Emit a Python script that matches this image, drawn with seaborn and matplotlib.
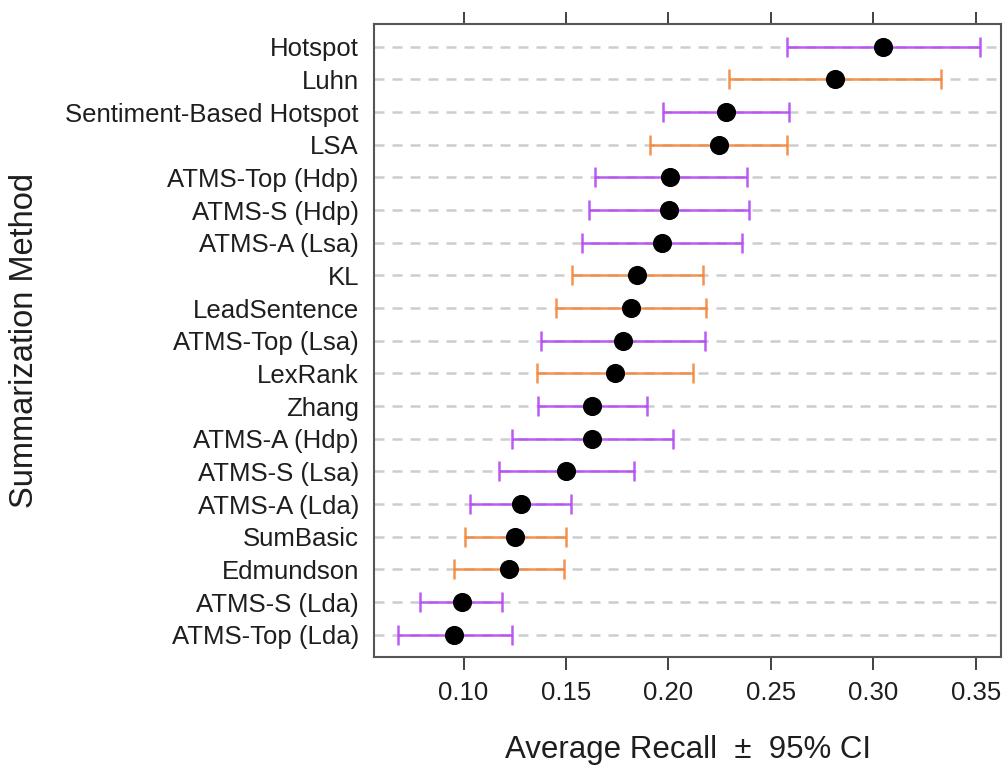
import matplotlib
matplotlib.use("Agg")
import matplotlib.pyplot as plt
import seaborn as sns
import pandas as pd
import numpy as np

methods = ["Hotspot", "Luhn", "Sentiment-Based Hotspot", "LSA", "ATMS-Top (Hdp)",
           "ATMS-S (Hdp)", "ATMS-A (Lsa)", "KL", "LeadSentence", "ATMS-Top (Lsa)",
           "LexRank", "Zhang", "ATMS-A (Hdp)", "ATMS-S (Lsa)", "ATMS-A (Lda)",
           "SumBasic", "Edmundson", "ATMS-S (Lda)", "ATMS-Top (Lda)"]
recall = [0.3048, 0.2815, 0.2282, 0.2247, 0.2009, 0.2003, 0.1970, 0.1847, 0.1819,
          0.1778, 0.1738, 0.1629, 0.1625, 0.1500, 0.1279, 0.1253, 0.1220, 0.0990, 0.0955]
ci_low = [0.2577, 0.2294, 0.1974, 0.1910, 0.1641, 0.1614, 0.1580, 0.1528, 0.1453,
          0.1378, 0.1360, 0.1362, 0.1236, 0.1172, 0.1030, 0.1008, 0.0953, 0.0788, 0.0680]
ci_high = [0.3519, 0.3329, 0.2589, 0.2579, 0.2381, 0.2393, 0.2358, 0.2170, 0.2183,
           0.2180, 0.2118, 0.1897, 0.2021, 0.1831, 0.1526, 0.1500, 0.1489, 0.1188, 0.1234]
group = ["proposed", "baseline", "proposed", "baseline", "proposed",
         "proposed", "proposed", "baseline", "baseline", "proposed",
         "baseline", "proposed", "proposed", "proposed", "proposed",
         "baseline", "baseline", "proposed", "proposed"]
xticks = [0.10, 0.15, 0.20, 0.25, 0.30, 0.35]

palette = {"proposed": "#B548F3", "baseline": "#F3863C"}

df = pd.DataFrame({"method": methods, "recall": recall, "lo": ci_low,
                   "hi": ci_high, "group": group})
df["pos"] = np.arange(len(df))

sns.set_style("white")
plt.rcParams["font.family"] = ["Liberation Sans", "DejaVu Sans"]

fig = plt.figure(figsize=(10.06, 7.68), dpi=100)
ax = fig.add_axes([0.372, 0.1445, 0.623, 0.8245])

# dashed horizontal grid lines
for p in df["pos"]:
    ax.axhline(p, color="#cdcdcd", lw=1.8, ls=(0, (4, 3.2)), zorder=1)

# confidence intervals
for _, r in df.iterrows():
    c = palette[r["group"]]
    ax.errorbar(r["recall"], r["pos"],
                xerr=[[r["recall"] - r["lo"]], [r["hi"] - r["recall"]]],
                fmt="none", ecolor=c, elinewidth=1.8, capsize=7.2, capthick=1.8,
                alpha=0.9, zorder=2)

sns.scatterplot(data=df, x="recall", y="pos", color="black", s=190,
                edgecolor="black", linewidth=0, zorder=3, ax=ax, legend=False)

ax.set_ylim(len(df) - 1 + 0.68, -0.7)
ax.set_xlim(0.0564, 0.3623)
ax.set_yticks(df["pos"])
ax.set_yticklabels(methods, fontsize=18.5, color="#1e1e1e")
ax.set_xticks(xticks)
ax.set_xticklabels([f"{v:.2f}" for v in xticks], fontsize=18.5, color="#1e1e1e")
ax.tick_params(axis="y", length=0, pad=11)
ax.tick_params(axis="x", direction="out", length=9, width=1.3, color="#333333",
               top=True, bottom=True, labeltop=False, labelbottom=True, pad=8)

for s in ax.spines.values():
    s.set_visible(True)
    s.set_color("#555555")
    s.set_linewidth(1.5)

ax.set_xlabel("Average Recall  \u00b1  95% CI", fontsize=22.5, color="#1e1e1e", labelpad=22)
ax.set_ylabel("Summarization Method", fontsize=23.5, color="#1e1e1e", labelpad=18)

fig.savefig("out.png", dpi=100)
